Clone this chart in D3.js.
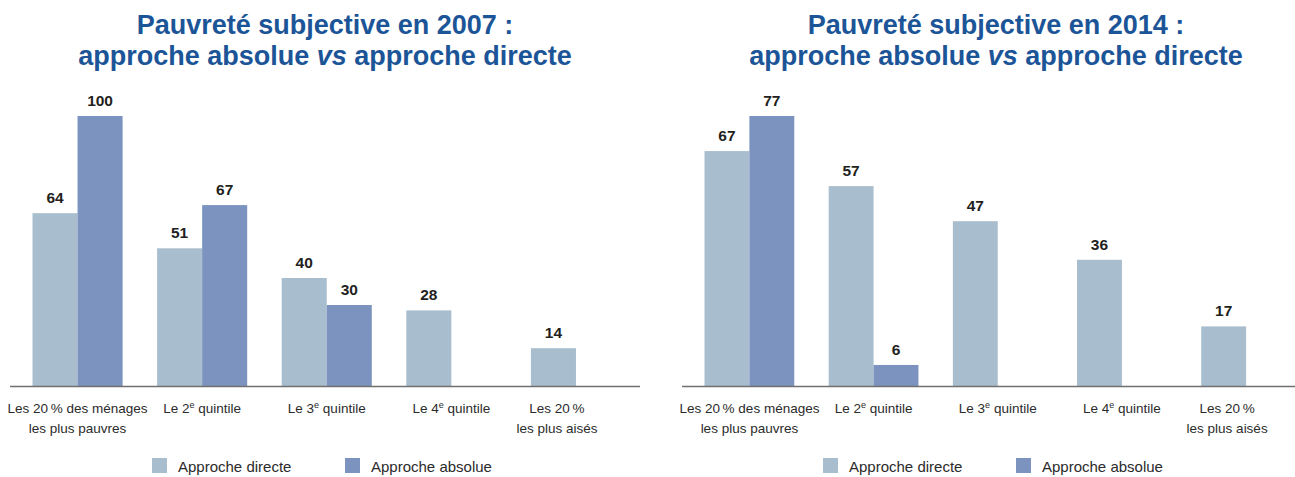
<!DOCTYPE html>
<html>
<head>
<meta charset="utf-8">
<script src="https://cdn.jsdelivr.net/npm/d3@7/dist/d3.min.js"></script>
<style>
  body { margin: 0; background: #fff; }
  svg { display: block; font-family: "Liberation Sans", Arial, sans-serif; }
</style>
</head>
<body>
<div id="chart"></div>
<script>
// données
const categories = [
    ['Les 20\u202f% des ménages', 'les plus pauvres'],
    ['Le 2e quintile'],
    ['Le 3e quintile'],
    ['Le 4e quintile'],
    ['Les 20\u202f%', 'les plus aisés']
];
const seriesNames = ['Approche directe', 'Approche absolue'];
const directe2007 = [64, 51, 40, 28, 14];
const absolue2007 = [100, 67, 30, null, null];
const directe2014 = [67, 57, 47, 36, 17];
const absolue2014 = [77, 6, null, null, null];
const titles2007 = ['Pauvreté subjective en 2007 :', 'approche absolue vs approche directe'];
const titles2014 = ['Pauvreté subjective en 2014 :', 'approche absolue vs approche directe'];

const _colors = ['#a8bdce', '#7b93be'];
const _width = 1295;
const _height = 477;
const _baseline = 386;
const _top = 116;

const svg = d3.select('#chart').append('svg')
    .attr('width', _width)
    .attr('height', _height);

function renderTitle (g, lines, cx) {
    const t = g.append('text')
        .attr('text-anchor', 'middle')
        .attr('fill', '#1c5597')
        .style('font-weight', 'bold')
        .style('font-size', '27px');
    t.append('tspan').attr('x', cx).attr('y', 34).text(lines[0]);
    // "vs" en italique
    const l2 = t.append('tspan').attr('x', cx).attr('y', 65);
    const parts = lines[1].split(' vs ');
    l2.append('tspan').text(parts[0] + ' ');
    l2.append('tspan').style('font-style', 'italic').text('vs');
    l2.append('tspan').text(' ' + parts[1]);
}

function addLabelLine (text, line, x, y) {
    const tsp = text.append('tspan').attr('x', x).attr('y', y);
    const m = line.match(/^(Le \d)e (.*)$/);
    if (m) {
        tsp.append('tspan').text(m[1]);
        tsp.append('tspan').attr('dy', -5).style('font-size', '9px').text('e');
        tsp.append('tspan').attr('dy', 5).text(' ' + m[2]);
    } else {
        tsp.text(line);
    }
}

function barPanel (opts) {
    const g = svg.append('g').attr('class', 'panel');
    const cats = categories.map(function (d) { return d.join(' '); });
    const data = cats.map(function (c, i) {
        return { cat: c, lines: categories[i], values: [opts.directe[i], opts.absolue[i]] };
    });

    const x0 = d3.scaleBand()
        .domain(cats)
        .range([opts.x0 + 22.5, opts.x1 - 19])
        .paddingInner(0.277)
        .paddingOuter(0);
    const x1 = d3.scaleBand()
        .domain([0, 1])
        .range([0, x0.bandwidth()]);
    const y = d3.scaleLinear()
        .domain([0, d3.max(opts.absolue.concat(opts.directe))])
        .range([_baseline, _top]);

    renderTitle(g, opts.titles, opts.cx);

    const groups = g.selectAll('g.group')
        .data(data)
        .enter()
        .append('g')
        .attr('class', 'group')
        .attr('transform', function (d) { return 'translate(' + x0(d.cat) + ',0)'; });

    const bars = groups.selectAll('g.bar')
        .data(function (d) {
            return d.values.map(function (v, i) { return { i: i, v: v }; })
                .filter(function (e) { return e.v != null; });
        })
        .enter()
        .append('g')
        .attr('class', 'bar');

    bars.append('rect')
        .attr('x', function (d) { return x1(d.i); })
        .attr('y', function (d) { return y(d.v); })
        .attr('width', x1.bandwidth())
        .attr('height', function (d) { return _baseline + 1 - y(d.v); })
        .attr('fill', function (d) { return _colors[d.i]; });

    bars.append('text')
        .attr('x', function (d) { return x1(d.i) + x1.bandwidth() / 2; })
        .attr('y', function (d) { return y(d.v) - 10; })
        .attr('text-anchor', 'middle')
        .attr('fill', '#231f20')
        .style('font-weight', 'bold')
        .style('font-size', '15.5px')
        .text(function (d) { return d.v; });

    // axe horizontal
    g.append('line')
        .attr('x1', opts.x0)
        .attr('x2', opts.x1)
        .attr('y1', _baseline + 0.5)
        .attr('y2', _baseline + 0.5)
        .attr('stroke', '#707070')
        .attr('stroke-width', 1.6);

    // libellés des catégories
    groups.each(function (d, gi) {
        const cx = x0.bandwidth() / 2 + (gi === 4 ? -19 : 0);
        const t = d3.select(this).append('text')
            .attr('text-anchor', 'middle')
            .attr('fill', '#2b2b2b')
            .style('font-size', '13.5px');
        d.lines.forEach(function (line, li) {
            addLabelLine(t, line, cx, 413 + li * 20);
        });
    });

    // légende
    const leg = g.append('g')
        .attr('transform', 'translate(' + (opts.cx - 173) + ',458)');
    const offsets = [0, 193];
    seriesNames.forEach(function (name, i) {
        leg.append('rect')
            .attr('x', offsets[i])
            .attr('y', 0)
            .attr('width', 15)
            .attr('height', 15)
            .attr('fill', _colors[i]);
        leg.append('text')
            .attr('x', offsets[i] + 26)
            .attr('y', 14)
            .attr('fill', '#2b2b2b')
            .style('font-size', '15px')
            .text(name);
    });
}

barPanel({ x0: 10, x1: 640, cx: 325, directe: directe2007, absolue: absolue2007, titles: titles2007 });
barPanel({ x0: 682, x1: 1310, cx: 996, directe: directe2014, absolue: absolue2014, titles: titles2014 });
</script>
</body>
</html>
